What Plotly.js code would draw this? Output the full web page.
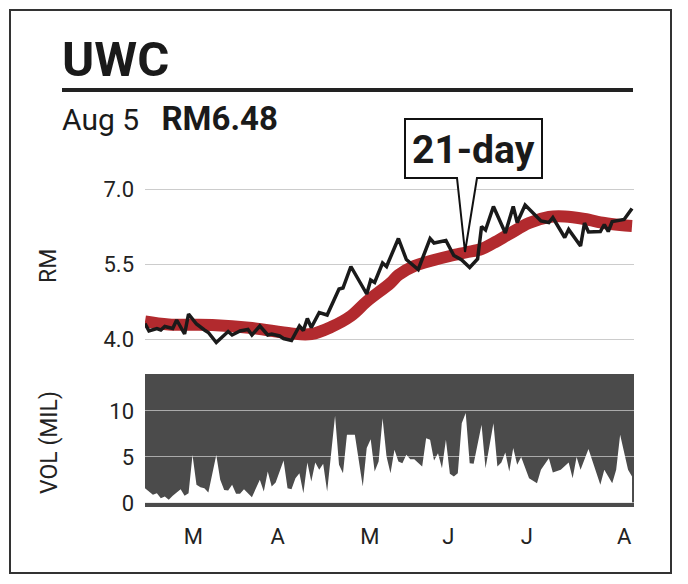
<!DOCTYPE html>
<html>
<head>
<meta charset="utf-8">
<script src="https://cdn.plot.ly/plotly-3.0.1.min.js"></script>
<style>
  body { margin: 0; background: white; }
  #chart { width: 688px; height: 584px; }
</style>
</head>
<body>
<div id="chart"></div>
<script>
// daily close (trading day index, RM)
var priceDay = [0, 1, 3, 4, 5, 7, 8, 10, 11, 13, 15, 16, 18, 21, 22, 24, 26, 27, 29, 31,
  32, 34, 35, 37, 39, 40, 41, 42, 44, 46, 49, 50, 52, 56, 57, 58, 60, 61, 64, 66,
  69, 72, 73, 74, 76, 78, 80, 82, 84, 85, 86, 88, 91, 93, 94, 96, 98, 100, 102, 103,
  106, 107, 110, 111, 112, 115, 116, 117, 118, 120, 121, 123];
var priceVal = [4.31, 4.16, 4.21, 4.18, 4.25, 4.21, 4.38, 4.10, 4.50, 4.30, 4.18, 4.13, 3.93, 4.15, 4.08, 4.16, 4.19, 4.08, 4.26, 4.08,
  4.10, 4.06, 4.01, 3.97, 4.26, 4.17, 4.41, 4.23, 4.53, 4.48, 5.00, 5.02, 5.45, 4.90, 5.18, 5.13, 5.52, 5.45, 6.01, 5.59,
  5.39, 6.01, 5.92, 5.94, 5.97, 5.67, 5.58, 5.43, 5.60, 6.25, 6.18, 6.65, 6.12, 6.65, 6.33, 6.68, 6.51, 6.36, 6.33, 6.43,
  6.03, 6.19, 5.86, 6.32, 6.14, 6.15, 6.29, 6.15, 6.35, 6.38, 6.39, 6.61];

// 21-day moving average
var maDay = [0, 6, 17, 27, 37, 42, 47, 52, 56, 62, 64, 68, 73, 77, 81, 85, 88, 92, 97, 102, 106, 111, 116, 120, 123];
var maVal = [4.35, 4.29, 4.28, 4.22, 4.11, 4.10, 4.24, 4.46, 4.75, 5.12, 5.28, 5.46, 5.58, 5.66, 5.73, 5.80, 5.92, 6.10, 6.32, 6.44, 6.45, 6.40, 6.32, 6.28, 6.26];

// volume, millions
var volDay = [0, 1, 2, 3, 4, 5, 6, 7, 9, 10, 11, 12, 13, 14, 15, 16, 18, 19, 20, 21,
  22, 23, 24, 25, 27, 29, 30, 31, 32, 33, 35, 36, 37, 38, 39, 40, 41, 42, 43, 44,
  45, 46, 48, 49, 50, 51, 53, 55, 56, 57, 58, 59, 60, 61, 62, 63, 64, 65, 66, 67,
  68, 70, 71, 72, 73, 74, 75, 76, 77, 78, 79, 80, 81, 82, 83, 85, 86, 88, 89, 90,
  91, 92, 93, 94, 95, 97, 99, 100, 102, 103, 105, 107, 108, 109, 110, 112, 115, 116, 118, 119,
  120, 122, 123];
var volVal = [1.6, 1.23, 0.87, 1.05, 0.51, 0.69, 0.33, 0.76, 1.49, 0.76, 1.05, 5.2, 1.96, 1.7, 1.6, 1.12, 5.2, 2.5, 1.41, 1.34,
  1.96, 0.98, 0.98, 1.49, 0.62, 2.5, 1.23, 3.4, 1.77, 2.2, 4.6, 1.6, 1.49, 2.68, 3.23, 1.05, 4.38, 2.32, 4.38, 3.59,
  4.24, 1.23, 9.46, 4.13, 3.23, 7.39, 7.39, 1.77, 5.95, 6.92, 3.4, 4.49, 9.2, 5.03, 3.23, 5.76, 4.49, 4.31, 5.22, 4.75,
  4.75, 3.95, 7.03, 6.85, 4.6, 5.4, 3.77, 6.85, 3.15, 2.86, 3.23, 8.66, 9.75, 4.31, 4.24, 8.48, 3.77, 8.66, 3.95, 4.38,
  5.47, 3.4, 5.95, 4.13, 4.97, 2.68, 2.14, 3.59, 4.86, 3.29, 3.59, 4.38, 2.68, 4.97, 3.59, 5.84, 1.96, 3.59, 2.14, 3.59,
  7.39, 3.59, 2.86];

var monthTicks = [12.2, 33.5, 56.8, 76.6, 96.4, 121];
var monthLabels = ['M', 'A', 'M', 'J', 'J', 'A'];

var priceTicks = [4.0, 5.5, 7.0];
var volTicks = [0, 5, 10];

// pixel -> paper helpers (layout has zero margins)
function fx(p) { return p / 688; }
function fy(p) { return 1 - p / 584; }

var data = [
  {
    x: maDay, y: maVal, xaxis: 'x', yaxis: 'y',
    type: 'scatter', mode: 'lines',
    line: { color: '#b22a2e', width: 12, shape: 'spline', smoothing: 1 },
    hoverinfo: 'skip'
  },
  {
    x: priceDay, y: priceVal, xaxis: 'x', yaxis: 'y',
    type: 'scatter', mode: 'lines',
    line: { color: '#1a1a1a', width: 3.5 },
    hoverinfo: 'skip'
  },
  {
    x: volDay, y: volVal, xaxis: 'x', yaxis: 'y2',
    type: 'scatter', mode: 'lines',
    fill: 'tozeroy', fillcolor: '#ffffff',
    line: { color: '#ffffff', width: 0 },
    hoverinfo: 'skip'
  }
];

var callout = 'M ' + fx(405) + ',' + fy(119) +
  ' L ' + fx(542) + ',' + fy(119) +
  ' L ' + fx(542) + ',' + fy(178) +
  ' L ' + fx(477) + ',' + fy(178) +
  ' L ' + fx(465) + ',' + fy(252) +
  ' L ' + fx(457) + ',' + fy(178) +
  ' L ' + fx(405) + ',' + fy(178) + ' Z';

var layout = {
  width: 688,
  height: 584,
  margin: { l: 0, r: 0, t: 0, b: 0 },
  paper_bgcolor: 'white',
  plot_bgcolor: 'rgba(0,0,0,0)',
  showlegend: false,
  font: { family: 'Roboto, sans-serif', color: '#222' },
  xaxis: {
    domain: [fx(145), fx(634)],
    range: [0, 123.5],
    anchor: 'y2',
    showgrid: false,
    zeroline: false,
    showline: false,
    ticks: '',
    tickvals: monthTicks,
    ticktext: monthLabels,
    tickfont: { size: 22, color: '#222' },
    ticklabelstandoff: 14
  },
  yaxis: {
    domain: [fy(349), fy(159)],
    range: [3.8, 7.6],
    anchor: 'x',
    tickvals: priceTicks,
    tickformat: '.1f',
    gridcolor: '#cccccc',
    gridwidth: 1,
    zeroline: false,
    showline: false,
    ticks: '',
    tickfont: { size: 22, color: '#222' },
    ticklabelstandoff: 10
  },
  yaxis2: {
    domain: [fy(507), fy(374)],
    range: [-0.45, 14],
    anchor: 'x',
    tickvals: volTicks,
    gridcolor: '#aaaaaa',
    gridwidth: 1,
    zeroline: false,
    showline: false,
    ticks: '',
    tickfont: { size: 22, color: '#222' },
    ticklabelstandoff: 10
  },
  shapes: [
    // outer frame
    { type: 'rect', xref: 'paper', yref: 'paper', x0: fx(10), x1: fx(671), y0: fy(573), y1: fy(10),
      line: { color: '#333', width: 2 }, fillcolor: 'rgba(0,0,0,0)' },
    // rule under the ticker
    { type: 'line', xref: 'paper', yref: 'paper', x0: fx(62), x1: fx(633), y0: fy(90), y1: fy(90),
      line: { color: '#222', width: 4 } },
    // volume panel background
    { type: 'rect', xref: 'x domain', yref: 'y2 domain', x0: 0, x1: 1, y0: 0, y1: 1,
      fillcolor: '#4b4b4b', line: { width: 0 }, layer: 'below' },
    // 21-day callout
    { type: 'path', xref: 'paper', yref: 'paper', path: callout,
      fillcolor: 'white', line: { color: '#111', width: 2 } }
  ],
  annotations: [
    { text: '<b>UWC</b>', xref: 'paper', yref: 'paper', x: fx(60), y: fy(59), xanchor: 'left', yanchor: 'middle',
      showarrow: false, font: { family: 'Roboto', size: 49, color: '#1a1a1a' } },
    { text: 'Aug 5&nbsp;&nbsp;&nbsp;<span style="font-size:33px"><b>RM6.48</b></span>', xref: 'paper', yref: 'paper',
      x: fx(60), y: fy(119), xanchor: 'left', yanchor: 'middle',
      showarrow: false, font: { family: 'Roboto', size: 30, color: '#1a1a1a' } },
    { text: '<b>21-day</b>', xref: 'paper', yref: 'paper', x: fx(473), y: fy(150), xanchor: 'center', yanchor: 'middle',
      showarrow: false, font: { family: 'Roboto', size: 39, color: '#1a1a1a' } },
    { text: 'RM', xref: 'paper', yref: 'paper', x: fx(49), y: fy(266), xanchor: 'center', yanchor: 'middle',
      textangle: -90, showarrow: false, font: { family: 'Roboto', size: 23, color: '#222' } },
    { text: 'VOL (MIL)', xref: 'paper', yref: 'paper', x: fx(49), y: fy(443), xanchor: 'center', yanchor: 'middle',
      textangle: -90, showarrow: false, font: { family: 'Roboto', size: 23, color: '#222' } }
  ]
};

var config = { staticPlot: true, displayModeBar: false };

Plotly.newPlot('chart', data, layout, config);
</script>
</body>
</html>
